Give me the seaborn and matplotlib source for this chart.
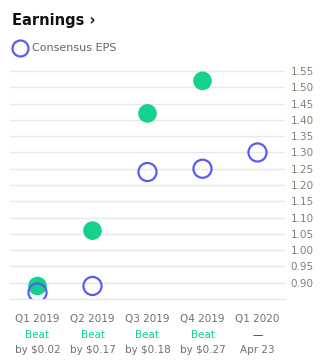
import matplotlib
matplotlib.use("Agg")
import matplotlib.pyplot as plt
import seaborn as sns
import pandas as pd
import numpy as np
from matplotlib.lines import Line2D
import matplotlib.transforms as mtransforms

quarters = ["Q1 2019", "Q2 2019", "Q3 2019", "Q4 2019", "Q1 2020"]
consensus = [0.87, 0.89, 1.24, 1.25, 1.30]
actual = [0.89, 1.06, 1.42, 1.52, None]
result_top = ["Beat", "Beat", "Beat", "Beat", "—"]
result_bottom = ["by $0.02", "by $0.17", "by $0.18", "by $0.27", "Apr 23"]
ytick_vals = [0.90, 0.95, 1.00, 1.05, 1.10, 1.15, 1.20, 1.25, 1.30, 1.35, 1.40, 1.45, 1.50, 1.55]

GREEN = "#14d18b"
BLUE = "#5a5af5"
GRID = "#e6e8ed"
TXT = "#707070"

sns.set_style("white")
plt.rcParams["font.family"] = ["DejaVu Sans"]

fig = plt.figure(figsize=(3.26, 3.64), dpi=100)
W, H = 326, 364
left, right, bottom, top = 10, 285, 299, 61.3
ax = fig.add_axes([left / W, 1 - bottom / H, (right - left) / W, (bottom - top) / H])

df_c = pd.DataFrame({"q": quarters, "v": consensus})
df_a = pd.DataFrame({"q": quarters, "v": actual}).dropna()

sns.scatterplot(data=df_a, x="q", y="v", ax=ax, s=180, color=GREEN, edgecolor="none", zorder=3)
sns.scatterplot(data=df_c, x="q", y="v", ax=ax, s=170, facecolor="none", edgecolor=BLUE, linewidth=1.6, zorder=4)

ax.set_xlim(-0.5, 4.5)
ax.set_ylim(0.85, 1.58)
ax.set_xlabel("")
ax.set_ylabel("")
ax.yaxis.tick_right()
ax.set_yticks(ytick_vals)
ax.set_yticklabels([f"{v:.2f}" for v in ytick_vals], fontsize=7.5, color="#8a7d70")
ax.tick_params(axis="y", length=0, pad=4)
ax.grid(axis="y", color=GRID, linewidth=1.0)
ax.set_axisbelow(True)
for s in ["top", "left", "right"]:
    ax.spines[s].set_visible(False)
ax.spines["bottom"].set_color(GRID)
ax.spines["bottom"].set_linewidth(1.0)

ax.set_xticks(range(len(quarters)))
ax.set_xticklabels(quarters, fontsize=7.5, color=TXT)
ax.tick_params(axis="x", length=0, pad=11)

trans = mtransforms.blended_transform_factory(ax.transData, fig.transFigure)
for i, (t1, t2) in enumerate(zip(result_top, result_bottom)):
    c1 = GREEN if t1 == "Beat" else "#333333"
    ax.text(i, 1 - 335 / H, t1, transform=trans, ha="center", va="center", fontsize=7.5, color=c1)
    ax.text(i, 1 - 350 / H, t2, transform=trans, ha="center", va="center", fontsize=7.5, color=TXT)

fig.text(12 / W, 1 - 20 / H, "Earnings \u203a", fontsize=10.5, fontweight="bold", color="#111111", va="center", ha="left")
fig.add_artist(Line2D([19.5 / W], [1 - 47.5 / H], marker="o", markersize=11.5, markerfacecolor="none",
                      markeredgecolor=BLUE, markeredgewidth=1.6, linestyle="none", transform=fig.transFigure))
fig.text(32 / W, 1 - 48 / H, "Consensus EPS", fontsize=8, color="#666666", va="center", ha="left")

fig.savefig("out.png", dpi=100)
